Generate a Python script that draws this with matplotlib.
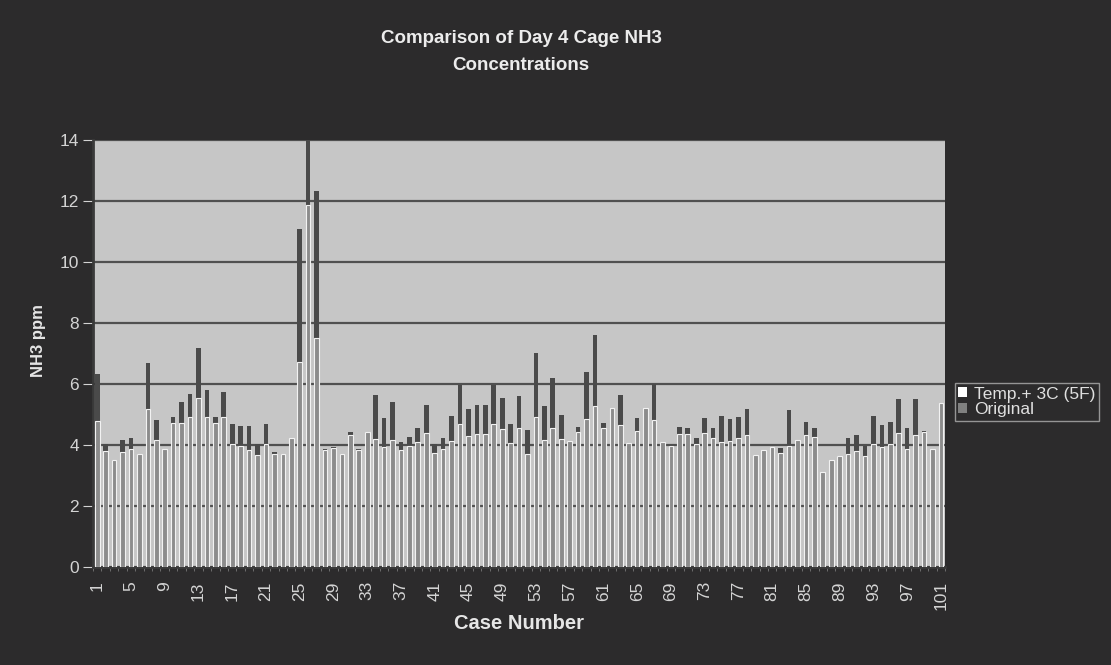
import numpy as np
import matplotlib.pyplot as plt
from matplotlib.patches import Patch

plt.rcParams['font.family'] = ['Liberation Sans', 'DejaVu Sans']

# NH3 ppm per case
cases = list(range(1, 102))
original = [6.32, 4.03, 3.53, 4.16, 4.25, 3.72, 6.68, 4.84, 3.84, 4.92,
            5.42, 5.67, 7.20, 5.80, 4.92, 5.75, 4.70, 4.63, 4.63, 4.03,
            4.70, 3.79, 3.72, 4.20, 11.07, 14.30, 12.32, 3.86, 3.94, 3.70,
            4.43, 3.86, 4.42, 5.65, 4.88, 5.42, 4.11, 4.28, 4.57, 5.32,
            4.03, 4.22, 4.95, 5.97, 5.20, 5.32, 5.32, 5.97, 5.54, 4.68,
            5.61, 4.49, 7.02, 5.29, 6.21, 5.00, 4.13, 4.59, 6.39, 7.60,
            4.72, 5.20, 5.64, 4.06, 4.90, 5.20, 5.99, 4.10, 3.99, 4.59,
            4.56, 4.23, 4.90, 4.55, 4.97, 4.85, 4.92, 5.18, 3.69, 3.81,
            3.91, 3.91, 5.14, 4.15, 4.75, 4.56, 3.09, 3.48, 3.66, 4.23,
            4.34, 3.97, 4.97, 4.67, 4.75, 5.51, 4.56, 5.51, 4.46, 3.84,
            5.36]
temp_3c = [4.79, 3.81, 3.50, 3.79, 3.88, 3.70, 5.18, 4.16, 3.86, 4.72,
           4.72, 4.92, 5.56, 4.92, 4.72, 4.92, 4.03, 3.97, 3.83, 3.68,
           4.03, 3.72, 3.70, 4.25, 6.74, 11.88, 7.50, 3.84, 3.92, 3.72,
           4.33, 3.84, 4.44, 4.19, 3.94, 4.16, 3.83, 3.97, 4.11, 4.41,
           3.75, 3.86, 4.14, 4.70, 4.30, 4.35, 4.38, 4.68, 4.52, 4.08,
           4.55, 3.72, 4.92, 4.18, 4.57, 4.20, 4.15, 4.43, 4.85, 5.27,
           4.55, 5.22, 4.66, 4.08, 4.48, 5.22, 4.83, 4.12, 3.97, 4.35,
           4.37, 4.04, 4.39, 4.24, 4.10, 4.15, 4.24, 4.32, 3.67, 3.83,
           3.93, 3.74, 3.96, 4.17, 4.32, 4.26, 3.11, 3.50, 3.64, 3.72,
           3.80, 3.66, 4.04, 3.93, 4.04, 4.40, 3.88, 4.34, 4.44, 3.86,
           5.38]

bg = '#2c2b2c'
fig = plt.figure(figsize=(11.11, 6.65), dpi=100, facecolor=bg)
ax = fig.add_axes([0.0837, 0.147, 0.767, 0.6425])
ax.set_facecolor('#c6c6c6')

x = np.arange(len(cases))
ax.bar(x, original, width=0.55, color='#4a4a4a', zorder=2)
ax.bar(x, temp_3c, width=0.55, color='#8c8c8c', edgecolor='#f2f2f2',
       linewidth=0.8, zorder=3)

ax.set_ylim(0, 14)
ax.set_xlim(-0.5, len(cases) - 0.5)
ax.set_yticks(range(0, 15, 2))
ax.yaxis.grid(True, color='#505050', linewidth=1.6, zorder=1)
ax.set_axisbelow(True)

ax.set_xticks(x[::4])
ax.set_xticklabels([str(c) for c in cases[::4]], rotation=90)
ax.set_xticks(np.arange(-0.5, len(cases)), minor=True)
ax.tick_params(axis='x', which='major', length=0, pad=10)
ax.tick_params(axis='x', which='minor', length=3, color='#777777')
ax.tick_params(axis='y', length=7, color='#777777', pad=3)
ax.tick_params(colors='#d4d4d4', labelsize=12.5)

for side in ['top', 'right']:
    ax.spines[side].set_visible(False)
ax.spines['left'].set_color('#3a3a3a')
ax.spines['left'].set_linewidth(2)
ax.spines['bottom'].set_color('#3a3a3a')
ax.spines['bottom'].set_linewidth(2)

ax.set_ylabel('NH3 ppm', color='#e6e6e6', fontsize=12, fontweight='bold')
ax.yaxis.set_label_coords(-0.055, 0.53)
ax.set_xlabel('Case Number', color='#e6e6e6', fontsize=14.5, fontweight='bold',
              labelpad=3)
fig.text(0.469, 0.922, 'Comparison of Day 4 Cage NH3\nConcentrations', ha='center', va='center',
         color='#ececec', fontsize=13.5, fontweight='bold', linespacing=1.75)

handles = [Patch(facecolor='white', edgecolor='none'),
           Patch(facecolor='#808080', edgecolor='none')]
leg = fig.legend(handles, ['Temp.+ 3C (5F)', 'Original'], loc='upper left',
                 bbox_to_anchor=(0.8516, 0.437), frameon=True, fontsize=12.5,
                 handlelength=0.5, handleheight=0.5, handletextpad=0.4,
                 borderpad=0.2, labelspacing=0.05, fancybox=False)
leg.get_frame().set_facecolor(bg)
leg.get_frame().set_edgecolor('#b0b0b0')
for t in leg.get_texts():
    t.set_color('#e0e0e0')

fig.savefig('out.png', dpi=100, facecolor=bg)
